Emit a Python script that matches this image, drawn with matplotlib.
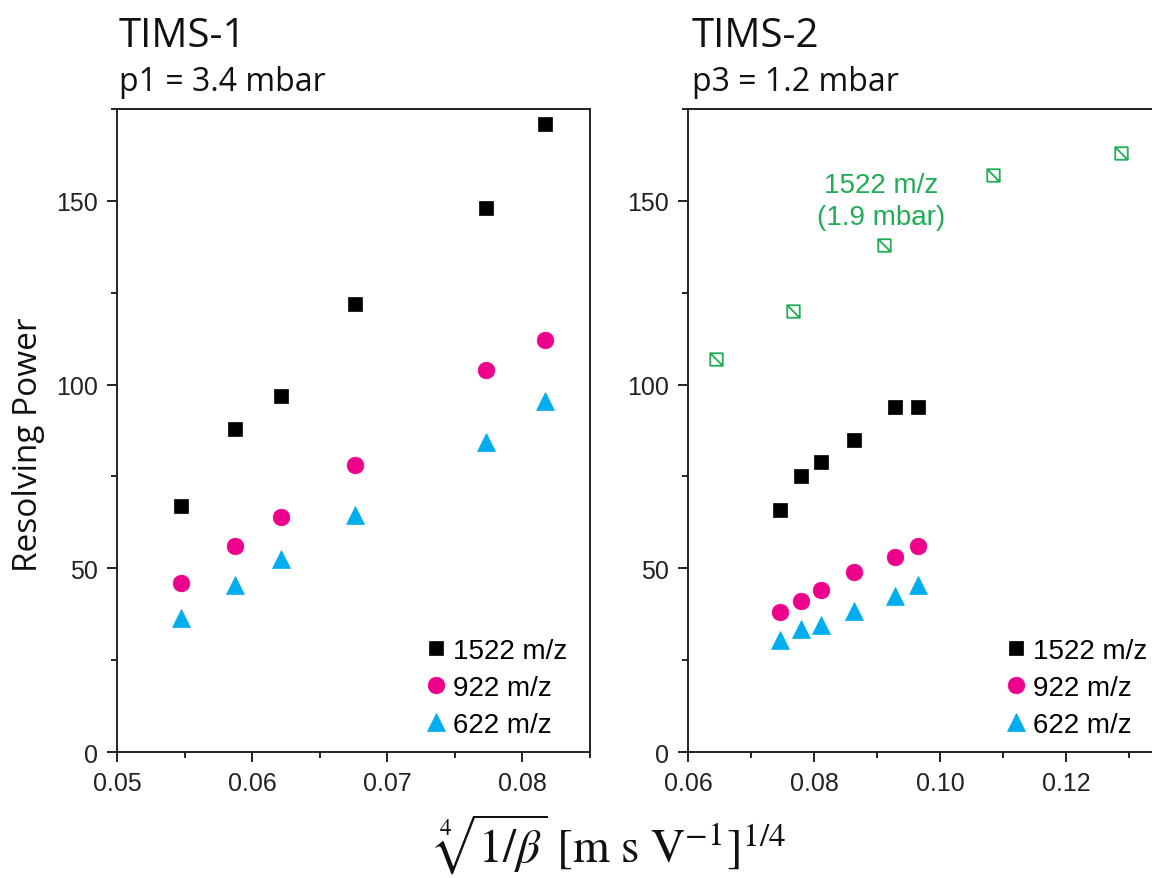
import matplotlib
matplotlib.use('Agg')
import matplotlib.pyplot as plt
from matplotlib.path import Path
from matplotlib.ticker import MultipleLocator

plt.rcParams['font.family'] = ['Liberation Sans', 'DejaVu Sans']
plt.rcParams['mathtext.fontset'] = 'stix'

# ---------------- data ----------------
labels = ['1522 m/z', '922 m/z', '622 m/z']

# TIMS-1 (p1 = 3.4 mbar)
x1 = [0.0547, 0.0587, 0.0621, 0.0676, 0.0773, 0.0817]
rp1_1522 = [67, 88, 97, 122, 148, 171]
rp1_922 = [46, 56, 64, 78, 104, 112]
rp1_622 = [36.5, 45.5, 52.5, 64.5, 84.5, 95.5]

# TIMS-2 (p3 = 1.2 mbar)
x2 = [0.0746, 0.0780, 0.0811, 0.0864, 0.0929, 0.0965]
rp2_1522 = [66, 75, 79, 85, 94, 94]
rp2_922 = [38, 41, 44, 49, 53, 56]
rp2_622 = [30.5, 33.5, 34.5, 38.5, 42.5, 45.5]

# TIMS-2, 1522 m/z at 1.9 mbar
x2_hp = [0.0645, 0.0766, 0.0911, 0.1084, 0.1288]
rp2_hp = [107, 120, 138, 157, 163]

x1_ticks = [0.05, 0.06, 0.07, 0.08]
x1_ticklabels = ['0.05', '0.06', '0.07', '0.08']
x2_ticks = [0.06, 0.08, 0.10, 0.12]
x2_ticklabels = ['0.06', '0.08', '0.10', '0.12']

# ---------------- style ----------------
c_black = '#000000'
c_pink = '#ec008c'
c_cyan = '#00aeef'
c_green = '#1fae55'
axis_col = '#222222'

fig = plt.figure(figsize=(11.52, 8.79), dpi=100)
ax1 = fig.add_axes([0.1016, 0.1433, 0.4106, 0.7316])
ax2 = fig.add_axes([0.5972, 0.1433, 0.4375, 0.7316])

sq_marker = Path([(-1, -1), (1, -1), (1, 1), (-1, 1), (-1, -1), (-1, 1), (1, -1)],
                 [Path.MOVETO, Path.LINETO, Path.LINETO, Path.LINETO, Path.CLOSEPOLY,
                  Path.MOVETO, Path.LINETO])


def draw(ax, x, a, b, c):
    h1, = ax.plot(x, a, ls='none', marker='s', ms=10, color=c_black, mec=c_black, mew=0.5)
    h2, = ax.plot(x, b, ls='none', marker='o', ms=12, color=c_pink, mec=c_pink, mew=0.5)
    h3, = ax.plot(x, c, ls='none', marker='^', ms=13.5, color=c_cyan, mec=c_cyan, mew=0.5)
    return [h1, h2, h3]


hs1 = draw(ax1, x1, rp1_1522, rp1_922, rp1_622)
hs2 = draw(ax2, x2, rp2_1522, rp2_922, rp2_622)
ax2.plot(x2_hp, rp2_hp, ls='none', marker=sq_marker, ms=9, mfc='none',
         mec=c_green, mew=1.3)
ax2.text(0.0907, 150, '1522 m/z\n(1.9 mbar)', color=c_green, fontsize=20,
         ha='center', va='center', linespacing=1.3)

ax1.set_xlim(0.05, 0.085)
ax2.set_xlim(0.06, 0.14)
for ax in (ax1, ax2):
    ax.set_ylim(0, 175)
    ax.yaxis.set_major_locator(MultipleLocator(50))
    ax.yaxis.set_minor_locator(MultipleLocator(25))
    for s in ax.spines.values():
        s.set_color(axis_col)
        s.set_linewidth(1.4)
    ax.tick_params(which='both', direction='out', top=False, right=False,
                   color=axis_col, width=1.4, labelsize=18, labelcolor='#222222')
    ax.tick_params(which='major', length=7, pad=7)
    ax.tick_params(which='minor', length=4.5)

ax1.xaxis.set_minor_locator(MultipleLocator(0.005))
ax1.set_xticks(x1_ticks)
ax1.set_xticklabels(x1_ticklabels)
ax2.xaxis.set_minor_locator(MultipleLocator(0.01))
ax2.set_xticks(x2_ticks)
ax2.set_xticklabels(x2_ticklabels)

leg_kw = dict(loc='lower left', frameon=False, fontsize=20, handletextpad=0.2,
              handlelength=0.8, labelspacing=0.4, borderpad=0, borderaxespad=0)
ax1.legend(hs1, labels, bbox_to_anchor=(0.651, 0.022), **leg_kw)
ax2.legend(hs2, labels, bbox_to_anchor=(0.629, 0.022), **leg_kw)

# titles
title_font = ['Open Sans', 'DejaVu Sans']
fig.text(119 / 1152, 1 - 47 / 879, 'TIMS-1', fontsize=29, family=title_font,
         ha='left', va='baseline', color='#111111')
fig.text(119 / 1152, 1 - 91 / 879, 'p1 = 3.4 mbar', fontsize=23, family=title_font,
         ha='left', va='baseline', color='#111111')
fig.text(692 / 1152, 1 - 47 / 879, 'TIMS-2', fontsize=29, family=title_font,
         ha='left', va='baseline', color='#111111')
fig.text(692 / 1152, 1 - 91 / 879, 'p3 = 1.2 mbar', fontsize=23, family=title_font,
         ha='left', va='baseline', color='#111111')

fig.text(29 / 1152, 1 - 445 / 879, 'Resolving Power', fontsize=24, family=title_font,
         rotation=90, ha='center', va='center', color='#111111')
fig.text(610 / 1152, 1 - 845 / 879,
         r'$\sqrt[4]{1/\beta}\ [\mathrm{m\ s\ V^{-1}}]^{1/4}$',
         fontsize=34, ha='center', va='center', color='#111111')

fig.savefig('out.png', dpi=100)
